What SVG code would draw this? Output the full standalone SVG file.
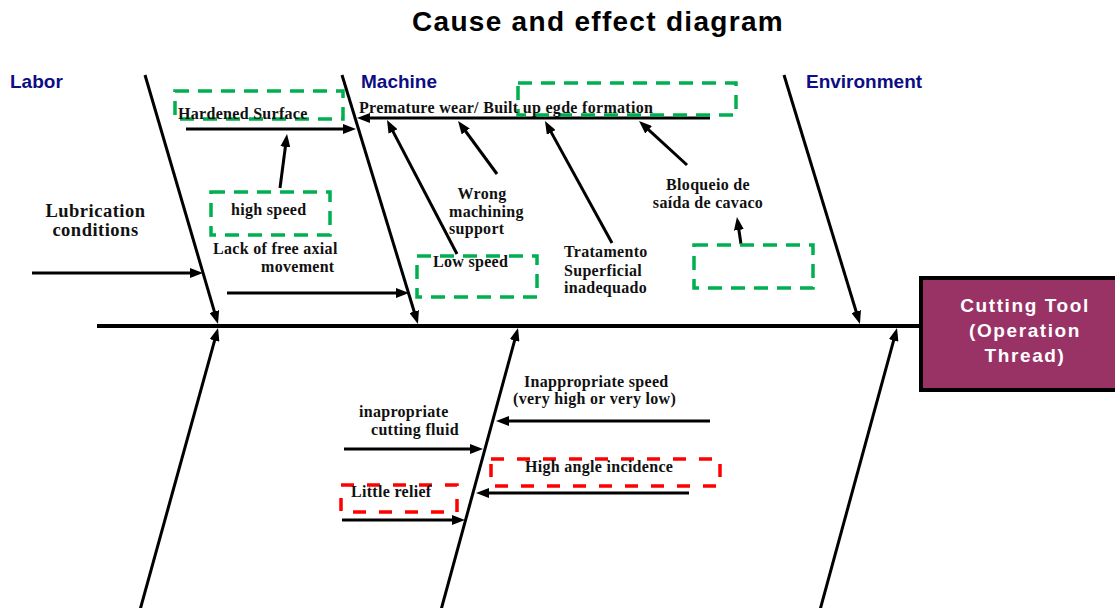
<svg xmlns="http://www.w3.org/2000/svg" width="1115" height="608" viewBox="0 0 1115 608">
  <style>
    .bone { stroke: #000; stroke-width: 3; fill: none; }
    .spine { stroke: #000; stroke-width: 4; fill: none; }
    .arr { stroke: #000; stroke-width: 3; fill: none; marker-end: url(#head); }
    .gbox { fill: none; stroke: #00b050; stroke-width: 3.5; stroke-dasharray: 14 9; }
    .rbox { fill: none; stroke: #ff0000; stroke-width: 3.5; stroke-dasharray: 13 13; }
    .t { font-family: "Liberation Serif", "Times New Roman", serif; font-weight: bold; font-size: 16px; fill: #111; letter-spacing: 0.3px; }
    .big { font-size: 18.5px; letter-spacing: 0.5px; }
    .cat { font-family: "Liberation Sans", Arial, sans-serif; font-weight: bold; font-size: 19px; fill: #0d0d85; }
    .title { font-family: "Liberation Sans", Arial, sans-serif; font-weight: bold; font-size: 28px; fill: #000; letter-spacing: 1.3px; }
    .eff { font-family: "Liberation Sans", Arial, sans-serif; font-weight: bold; font-size: 19px; fill: #fff; letter-spacing: 1.6px; }
  </style>
  <defs>
    <marker id="head" markerUnits="userSpaceOnUse" markerWidth="13" markerHeight="10" viewBox="0 0 13 10" refX="8" refY="5" orient="auto">
      <path d="M0,0 L13,5 L0,10 Z" fill="#000"/>
    </marker>
  </defs>

  <rect width="1115" height="608" fill="#fff"/>

  <text class="title" x="598" y="31" text-anchor="middle">Cause and effect diagram</text>

  <!-- category headings -->
  <g id="categories">
    <text class="cat" x="10" y="88">Labor</text>
    <text class="cat" x="361" y="88">Machine</text>
    <text class="cat" x="806" y="88">Environment</text>
  </g>

  <!-- effect head -->
  <g id="effect">
    <rect x="921" y="278" width="198" height="112" fill="#993366" stroke="#000" stroke-width="4"/>
    <text class="eff" x="1025" y="312" text-anchor="middle">Cutting Tool</text>
    <text class="eff" x="1025" y="337" text-anchor="middle">(Operation</text>
    <text class="eff" x="1025" y="362" text-anchor="middle">Thread)</text>
  </g>

  <!-- spine, main bones and cause arrows -->
  <g id="connectors">
    <line class="spine" x1="97" y1="326" x2="921" y2="326"/>

    <line class="arr" x1="145" y1="75" x2="216.6" y2="319.2"/>
    <line class="arr" x1="342" y1="75" x2="416.5" y2="319.2"/>
    <line class="arr" x1="784" y1="75" x2="858.5" y2="319.2"/>
    <line class="arr" x1="140" y1="610" x2="216.7" y2="332.8"/>
    <line class="arr" x1="441" y1="610" x2="516.7" y2="332.8"/>
    <line class="arr" x1="820" y1="610" x2="895.7" y2="332.8"/>

    <line class="arr" x1="32" y1="273" x2="198" y2="273"/>
    <line class="arr" x1="186" y1="129" x2="351" y2="129"/>
    <line class="arr" x1="227" y1="293" x2="404" y2="293"/>
    <line class="arr" x1="710" y1="118" x2="362" y2="118"/>

    <line class="arr" x1="280" y1="188" x2="286.4" y2="139"/>
    <line class="arr" x1="457" y1="254" x2="389.3" y2="124.4"/>
    <line class="arr" x1="497" y1="174" x2="461" y2="125"/>
    <line class="arr" x1="612" y1="243" x2="547.4" y2="125.4"/>
    <line class="arr" x1="687" y1="165" x2="642.7" y2="124.4"/>
    <line class="arr" x1="741" y1="244" x2="737.7" y2="222"/>

    <line class="arr" x1="710" y1="421" x2="501" y2="421"/>
    <line class="arr" x1="344" y1="449" x2="478" y2="449"/>
    <line class="arr" x1="689" y1="493" x2="481" y2="493"/>
    <line class="arr" x1="342" y1="520" x2="460" y2="520"/>
  </g>

  <!-- Labor causes -->
  <g id="hardened-surface">
    <rect class="gbox" x="175" y="91" width="168" height="28"/>
    <text class="t" x="178" y="119">Hardened Surface</text>
  </g>
  <g id="high-speed">
    <rect class="gbox" x="211" y="192" width="119" height="43"/>
    <text class="t" x="231" y="215">high speed</text>
  </g>
  <g id="lubrication">
    <text class="t big" x="95.5" y="217" text-anchor="middle">Lubrication</text>
    <text class="t big" x="95.5" y="236" text-anchor="middle">conditions</text>
  </g>
  <g id="lack-axial">
    <text class="t" x="213" y="254">Lack of free axial</text>
    <text class="t" x="261" y="272">movement</text>
  </g>

  <!-- Machine causes -->
  <g id="premature-wear">
    <rect class="gbox" x="518" y="83" width="218" height="32"/>
    <text class="t" x="359" y="113">Premature wear/ Built up egde formation</text>
  </g>
  <g id="low-speed">
    <rect class="gbox" x="417" y="256" width="120" height="41"/>
    <text class="t" x="433" y="267">Low speed</text>
  </g>
  <g id="wrong-support">
    <text class="t" x="482" y="199" text-anchor="middle">Wrong</text>
    <text class="t" x="449" y="217">machining</text>
    <text class="t" x="449" y="234">support</text>
  </g>
  <g id="tratamento">
    <text class="t" x="564" y="257">Tratamento</text>
    <text class="t" x="564" y="276">Superficial</text>
    <text class="t" x="564" y="293">inadequado</text>
  </g>
  <g id="bloqueio">
    <text class="t" x="708" y="190" text-anchor="middle">Bloqueio de</text>
    <text class="t" x="708" y="208" text-anchor="middle">saída de cavaco</text>
  </g>
  <g id="empty-cause">
    <rect class="gbox" x="694" y="245" width="119" height="43"/>
  </g>

  <!-- lower causes -->
  <g id="inappropriate-speed">
    <text class="t" x="524" y="387">Inappropriate speed</text>
    <text class="t" x="513" y="404">(very high or very low)</text>
  </g>
  <g id="cutting-fluid">
    <text class="t" x="359" y="417">inapropriate</text>
    <text class="t" x="371" y="435">cutting fluid</text>
  </g>
  <g id="high-angle">
    <rect class="rbox" x="491" y="459" width="229" height="27"/>
    <text class="t" x="525" y="472">High angle incidence</text>
  </g>
  <g id="little-relief">
    <rect class="rbox" x="341" y="485" width="116" height="27"/>
    <text class="t" x="351" y="497">Little relief</text>
  </g>
</svg>
